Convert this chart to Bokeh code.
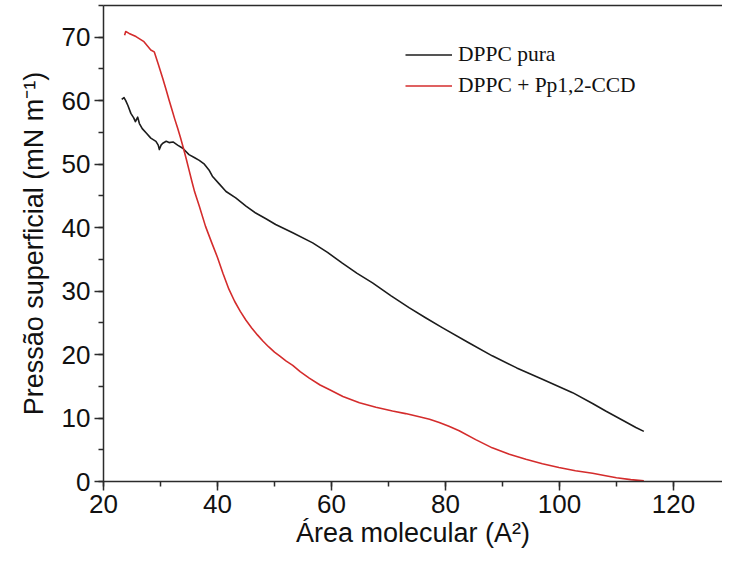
from bokeh.plotting import figure
from bokeh.models import (Range1d, LinearAxis, FixedTicker, SingleIntervalTicker,
                          Legend, LegendItem)
from bokeh.embed import file_html
from bokeh.resources import INLINE

# ---- data ----
area_pura = [23.2, 23.6, 23.9, 24.3, 24.8, 25.3, 25.6, 26.0, 26.3, 26.8, 27.5, 28.3,
             29.2, 29.6, 29.8, 30.1, 30.4, 31.0, 31.5, 32.2, 33.0, 33.9, 35.0, 36.0,
             36.8, 37.7, 38.5, 39.1, 40.3, 41.5, 43.2, 45.0, 46.7, 48.5, 50.2, 53.2,
             56.7, 59.3, 61.9, 64.5, 67.2, 70.4, 73.6, 76.5, 79.5, 84.0, 88.2, 92.5,
             97.0, 102.3, 105.8, 108.1, 111.0, 113.4, 114.8]
pres_pura = [60.2, 60.5, 60.0, 59.2, 58.0, 57.3, 56.7, 57.4, 56.4, 55.6, 54.9, 54.1,
             53.6, 53.0, 52.3, 53.0, 53.3, 53.6, 53.4, 53.5, 53.0, 52.5, 51.5, 51.0,
             50.6, 50.0, 49.1, 48.1, 46.9, 45.7, 44.7, 43.4, 42.3, 41.4, 40.5, 39.2,
             37.6, 36.1, 34.4, 32.8, 31.3, 29.3, 27.4, 25.8, 24.2, 21.9, 19.8, 17.9,
             16.1, 14.0, 12.3, 11.1, 9.7, 8.5, 7.9]

area_pp = [23.7, 23.9, 24.5, 25.7, 27.1, 28.3, 28.9, 29.6, 30.4, 31.0, 31.5, 32.0,
           32.5, 33.0, 33.5, 34.0, 34.5, 35.0, 35.5, 36.0, 36.8, 37.9, 39.0, 40.0,
           41.0, 42.0, 43.0, 44.0, 45.0, 46.0, 47.0, 48.0, 49.0, 50.0, 51.0, 52.0,
           53.2, 54.5, 56.1, 58.0, 59.6, 62.0, 64.9, 67.8, 70.7, 73.0, 75.4, 77.2,
           78.9, 80.6, 82.4, 85.3, 88.2, 91.2, 94.1, 97.0, 99.9, 102.8, 105.8, 108.1,
           110.0, 112.5, 114.8]
pres_pp = [70.3, 70.9, 70.6, 70.1, 69.3, 68.0, 67.7, 65.8, 63.5, 61.7, 60.1, 58.6,
           57.1, 55.7, 54.2, 52.6, 50.9, 49.1, 47.3, 45.6, 43.4, 40.2, 37.6, 35.3,
           32.7, 30.3, 28.4, 26.8, 25.4, 24.2, 23.1, 22.1, 21.2, 20.4, 19.7, 19.0,
           18.3, 17.3, 16.3, 15.2, 14.5, 13.4, 12.4, 11.7, 11.1, 10.7, 10.2, 9.8,
           9.3, 8.7, 8.0, 6.6, 5.3, 4.3, 3.5, 2.8, 2.2, 1.7, 1.3, 0.9,
           0.6, 0.3, 0.1]

labels = ["DPPC pura", "DPPC + Pp1,2-CCD"]
x_label = "Área molecular (A²)"
y_label = "Pressão superficial (mN m⁻¹)"

AXIS_COLOR = "#2b2b2b"
SANS = "Liberation Sans"

p = figure(width=722, height=554, output_backend="svg", toolbar_location=None,
           x_range=Range1d(20, 128.6), y_range=Range1d(0, 75),
           min_border_left=103, min_border_right=0, min_border_top=5,
           min_border_bottom=73, background_fill_color="white",
           border_fill_color="white", outline_line_color=None)
p.xgrid.visible = False
p.ygrid.visible = False

r1 = p.line(area_pura, pres_pura, line_color="#1c1c1c", line_width=1.6,
            line_join="round")
r2 = p.line(area_pp, pres_pp, line_color="#d42c2c", line_width=1.6,
            line_join="round")

for ax in (p.xaxis[0], p.yaxis[0]):
    ax.axis_line_color = AXIS_COLOR
    ax.axis_line_width = 1.5
    ax.major_tick_line_color = AXIS_COLOR
    ax.minor_tick_line_color = AXIS_COLOR
    ax.major_tick_line_width = 1.5
    ax.minor_tick_line_width = 1.5
    ax.major_tick_in = 0
    ax.major_tick_out = 9
    ax.minor_tick_in = 0
    ax.minor_tick_out = 5
    ax.major_label_text_font = SANS
    ax.major_label_text_font_size = "26px"
    ax.major_label_text_color = "#111111"
    ax.axis_label_text_font = SANS
    ax.axis_label_text_font_size = "27px"
    ax.axis_label_text_font_style = "normal"
    ax.axis_label_text_color = "#111111"

p.xaxis[0].ticker = SingleIntervalTicker(interval=20, num_minor_ticks=2)
p.yaxis[0].ticker = SingleIntervalTicker(interval=10, num_minor_ticks=2)
p.xaxis[0].axis_label = x_label
p.yaxis[0].axis_label = y_label
p.xaxis[0].major_label_standoff = 4
p.xaxis[0].axis_label_standoff = 2
p.yaxis[0].major_label_standoff = 4
p.yaxis[0].axis_label_standoff = 10

top = LinearAxis(ticker=FixedTicker(ticks=[]), axis_line_color=AXIS_COLOR,
                 axis_line_width=1.5, major_tick_out=0, major_tick_in=0,
                 minor_tick_out=0, minor_tick_in=0, major_label_standoff=0,
                 major_label_text_font_size="0px")
p.add_layout(top, "above")

legend = Legend(items=[LegendItem(label=labels[0], renderers=[r1]),
                       LegendItem(label=labels[1], renderers=[r2])],
                location=(302, 380), orientation="vertical",
                border_line_color=None, background_fill_alpha=0,
                padding=0, margin=0, spacing=0,
                glyph_width=47, glyph_height=31, label_height=31,
                label_standoff=6, label_text_font="Liberation Serif",
                label_text_font_size="21.5px", label_text_color="#111111")
p.add_layout(legend, "center")

open("out.html", "w").write(file_html(p, INLINE))
